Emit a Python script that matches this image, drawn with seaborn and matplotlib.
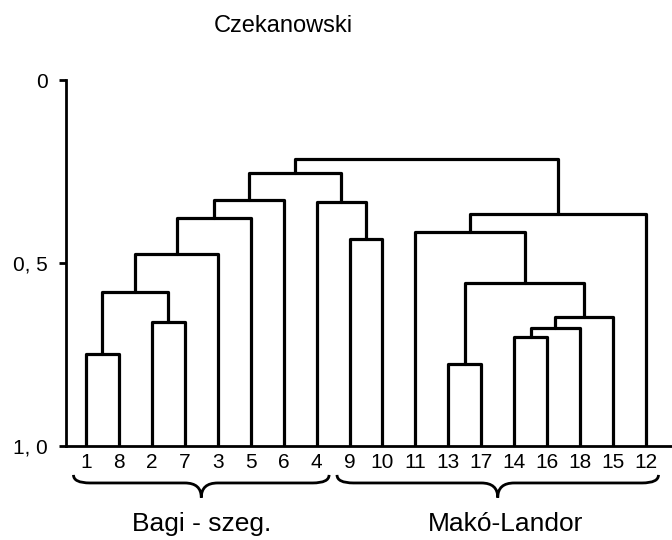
import numpy as np
import pandas as pd
import matplotlib
matplotlib.use("Agg")
import matplotlib.pyplot as plt
from matplotlib.path import Path
from matplotlib.patches import PathPatch
import seaborn as sns

# ---- data ----
title = "Czekanowski"
leaf_order = ["1", "8", "2", "7", "3", "5", "6", "4", "9",
              "10", "11", "13", "17", "14", "16", "18", "15", "12"]
merge_name = ["A", "B", "C", "D", "E", "F", "G", "H", "I",
              "J", "K", "L", "M", "N", "O", "P", "Q"]
merge_left = ["1", "2", "A", "C", "D", "E", "9", "4", "F",
              "13", "14", "K", "L", "J", "11", "O", "I"]
merge_right = ["8", "7", "B", "3", "5", "6", "10", "G", "H",
               "17", "16", "18", "15", "M", "N", "12", "P"]
merge_height = [0.749, 0.661, 0.579, 0.475, 0.377, 0.327, 0.434, 0.333, 0.254,
                0.776, 0.702, 0.678, 0.648, 0.555, 0.415, 0.366, 0.216]
group_names = ["Bagi - szeg.", "Makó-Landor"]
group_first = ["1", "9"]
group_last = ["4", "12"]
y_ticks = [0.0, 0.5, 1.0]
y_ticklabels = ["0", "0, 5", "1, 0"]

# ---- compute dendrogram geometry from the merges ----
pos = {leaf: float(i) for i, leaf in enumerate(leaf_order)}
hgt = {leaf: 1.0 for leaf in leaf_order}
rows = []
for name, l, r, h in zip(merge_name, merge_left, merge_right, merge_height):
    pts = [(pos[l], hgt[l]), (pos[l], h), (pos[r], h), (pos[r], hgt[r])]
    for k, (x, y) in enumerate(pts):
        rows.append({"seg": name, "order": k, "x": x, "y": y})
    pos[name] = (pos[l] + pos[r]) / 2
    hgt[name] = h
df = pd.DataFrame(rows)

sns.set_theme(style="white")
plt.rcParams["font.family"] = ["Liberation Sans Narrow", "Liberation Sans", "DejaVu Sans"]

W, H = 672, 540
fig = plt.figure(figsize=(W / 100, H / 100), dpi=100)
ax = fig.add_axes([66 / W, (H - 446) / H, (W - 66) / W, (446 - 80) / H])

sns.lineplot(data=df, x="x", y="y", units="seg", estimator=None, sort=False,
             color="black", linewidth=2.3, ax=ax, legend=False)

ax.set_xlim(-0.607, 17.79)
ax.set_ylim(1.0, 0.0)
ax.set_xlabel("")
ax.set_ylabel("")
sns.despine(ax=ax, top=True, right=True)
for sp in ("left", "bottom"):
    ax.spines[sp].set_color("black")
    ax.spines[sp].set_linewidth(2.0)

ax.set_xticks(range(len(leaf_order)))
ax.set_xticklabels(leaf_order)
ax.tick_params(axis="x", length=0, pad=5, labelsize=15, colors="black")
ax.set_yticks(y_ticks)
ax.set_yticklabels(y_ticklabels)
ax.tick_params(axis="y", left=True, length=5, width=2, pad=8, labelsize=15,
               colors="black")

# ---- braces and group labels ----
y_top, y_main, y_tip, y_lab = 1.079, 1.101, 1.141, 1.212
r = 0.5
lab_shift = [0.0, 0.25]
for gname, gf, gl, sh in zip(group_names, group_first, group_last, lab_shift):
    x0 = leaf_order.index(gf) - 0.38
    x1 = leaf_order.index(gl) + 0.38
    xt = (leaf_order.index(gf) + leaf_order.index(gl)) / 2
    verts = [(x0, y_top), (x0, y_main), (x0 + r, y_main),
             (xt - r, y_main), (xt, y_main), (xt, y_tip),
             (xt, y_main), (xt + r, y_main),
             (x1 - r, y_main), (x1, y_main), (x1, y_top)]
    codes = [Path.MOVETO, Path.CURVE3, Path.CURVE3,
             Path.LINETO, Path.CURVE3, Path.CURVE3,
             Path.CURVE3, Path.CURVE3,
             Path.LINETO, Path.CURVE3, Path.CURVE3]
    ax.add_patch(PathPatch(Path(verts, codes), facecolor="none",
                           edgecolor="black", linewidth=2.0, clip_on=False))
    ax.text(xt + sh, y_lab, gname, ha="center", va="center", fontsize=19,
            family=["Liberation Sans", "DejaVu Sans"], color="black",
            clip_on=False)

fig.text(283 / W, 1 - 26 / H, title, ha="center", va="center", fontsize=17,
         family=["Liberation Sans", "DejaVu Sans"], color="black")

fig.savefig("out.png", dpi=100, facecolor="white")
